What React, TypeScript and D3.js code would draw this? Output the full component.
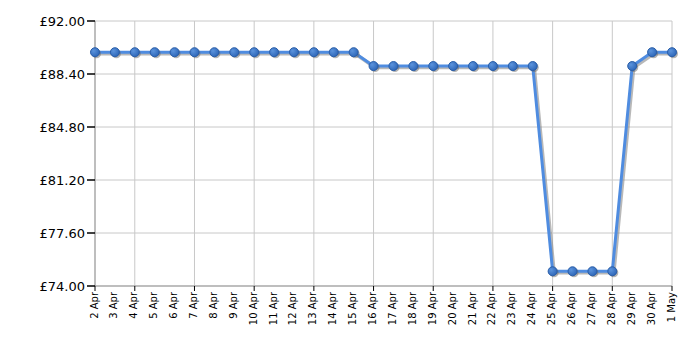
import React from "react";
import * as d3 from "d3";

const dates: string[] = [
  "2 Apr","3 Apr","4 Apr","5 Apr","6 Apr","7 Apr","8 Apr","9 Apr","10 Apr","11 Apr",
  "12 Apr","13 Apr","14 Apr","15 Apr","16 Apr","17 Apr","18 Apr","19 Apr","20 Apr","21 Apr",
  "22 Apr","23 Apr","24 Apr","25 Apr","26 Apr","27 Apr","28 Apr","29 Apr","30 Apr","1 May",
];
const prices: number[] = [
  89.88,89.88,89.88,89.88,89.88,89.88,89.88,89.88,89.88,89.88,
  89.88,89.88,89.88,89.88,88.94,88.94,88.94,88.94,88.94,88.94,
  88.94,88.94,88.94,75.0,75.0,75.0,75.0,88.94,89.88,89.88,
];
const yTicks: number[] = [74, 77.6, 81.2, 84.8, 88.4, 92];
const gridDates: string[] = ["2 Apr","4 Apr","7 Apr","10 Apr","13 Apr","16 Apr","19 Apr","22 Apr","25 Apr","28 Apr","1 May"];

export default function App() {
  const W = 700, H = 350;
  const left = 95, right = 672, top = 21, bottom = 286;
  const x = d3.scalePoint<string>().domain(dates).range([left, right]);
  const y = d3.scaleLinear().domain([74, 92]).range([bottom, top]);
  const line = d3.line<number>().x((_, i) => x(dates[i])!).y((d) => y(d));
  const path = line(prices)!;
  const font = "Verdana, 'DejaVu Sans', sans-serif";
  return (
    <svg width={W} height={H} style={{ position: "absolute", left: 0, top: 0, background: "#fff" }}>
      <defs>
        <radialGradient id="mk" cx="35%" cy="35%" r="70%">
          <stop offset="0%" stopColor="#5b93dc" />
          <stop offset="100%" stopColor="#2d66b8" />
        </radialGradient>
      </defs>
      {yTicks.map((t) => (
        <line key={"gy" + t} x1={left} x2={right} y1={y(t)} y2={y(t)} stroke="#c8c8c8" strokeWidth={1} />
      ))}
      {gridDates.map((d) => (
        <line key={"gx" + d} x1={x(d)} x2={x(d)} y1={top} y2={bottom} stroke="#c8c8c8" strokeWidth={1} />
      ))}
      <line x1={left} x2={left} y1={top} y2={bottom} stroke="#999" strokeWidth={1} />
      <line x1={left} x2={right} y1={bottom} y2={bottom} stroke="#999" strokeWidth={1} />
      {yTicks.map((t) => (
        <g key={"ty" + t}>
          <line x1={left - 8} x2={left} y1={y(t)} y2={y(t)} stroke="#000" strokeWidth={1.5} />
          <text x={left - 10} y={y(t)} dy="0.35em" textAnchor="end" fontFamily={font} fontSize={13} fill="#000">
            {"£" + t.toFixed(2)}
          </text>
        </g>
      ))}
      {gridDates.map((d) => (
        <line key={"tx" + d} x1={x(d)} x2={x(d)} y1={bottom} y2={bottom + 5} stroke="#000" strokeWidth={1} />
      ))}
      {dates.map((d) => (
        <text key={"lx" + d} transform={`translate(${x(d)! + 2.5},${bottom + 6}) rotate(-90)`} textAnchor="end"
          fontFamily={font} fontSize={10} fill="#000">
          {d}
        </text>
      ))}
      <path d={path} transform="translate(1.5,1.5)" fill="none" stroke="#888" strokeOpacity={0.6} strokeWidth={3.5} strokeLinejoin="round" />
      <path d={path} fill="none" stroke="#4f8ce0" strokeWidth={3} strokeLinejoin="round" />
      {prices.map((p, i) => (
        <circle key={"s" + i} cx={x(dates[i])! + 1.5} cy={y(p) + 1.5} r={4.5} fill="#666" fillOpacity={0.5} />
      ))}
      {prices.map((p, i) => (
        <circle key={"m" + i} cx={x(dates[i])} cy={y(p)} r={4.5} fill="url(#mk)" stroke="#2a5ea8" strokeWidth={1} />
      ))}
    </svg>
  );
}
